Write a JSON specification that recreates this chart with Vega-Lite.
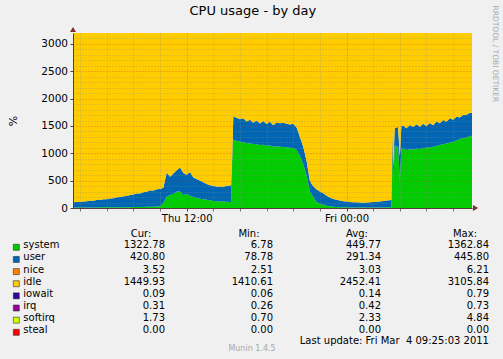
{
  "$schema": "https://vega.github.io/schema/vega-lite/v6.json",
  "width": 399,
  "height": 175,
  "autosize": {"type": "none"},
  "padding": {"left": 73, "top": 33, "right": 31, "bottom": 151},
  "background": "#F0F0F0",
  "title": {"text": "CPU usage - by day", "fontSize": 13, "fontWeight": "normal", "font": "DejaVu Sans", "color": "#000000", "anchor": "middle", "frame": "bounds", "dy": 17},
  "config": {"font": "DejaVu Sans", "view": {"stroke": null}},
  "datasets": {
    "cpu": [
      {"t":"2011-03-03T03:30Z","system":8,"user":97,"idle":3095},
      {"t":"2011-03-03T03:45Z","system":8,"user":104,"idle":3088},
      {"t":"2011-03-03T04:00Z","system":9,"user":102,"idle":3089},
      {"t":"2011-03-03T04:15Z","system":9,"user":112,"idle":3079},
      {"t":"2011-03-03T04:30Z","system":10,"user":112,"idle":3078},
      {"t":"2011-03-03T04:45Z","system":10,"user":123,"idle":3067},
      {"t":"2011-03-03T05:00Z","system":11,"user":121,"idle":3068},
      {"t":"2011-03-03T05:15Z","system":11,"user":135,"idle":3054},
      {"t":"2011-03-03T05:30Z","system":12,"user":135,"idle":3053},
      {"t":"2011-03-03T05:45Z","system":12,"user":150,"idle":3038},
      {"t":"2011-03-03T06:00Z","system":13,"user":148,"idle":3039},
      {"t":"2011-03-03T06:15Z","system":13,"user":163,"idle":3024},
      {"t":"2011-03-03T06:30Z","system":14,"user":166,"idle":3020},
      {"t":"2011-03-03T06:45Z","system":14,"user":184,"idle":3002},
      {"t":"2011-03-03T07:00Z","system":15,"user":186,"idle":2999},
      {"t":"2011-03-03T07:15Z","system":15,"user":202,"idle":2983},
      {"t":"2011-03-03T07:30Z","system":16,"user":203,"idle":2981},
      {"t":"2011-03-03T07:45Z","system":16,"user":222,"idle":2962},
      {"t":"2011-03-03T08:00Z","system":17,"user":229,"idle":2954},
      {"t":"2011-03-03T08:15Z","system":18,"user":247,"idle":2935},
      {"t":"2011-03-03T08:30Z","system":19,"user":248,"idle":2933},
      {"t":"2011-03-03T08:45Z","system":20,"user":269,"idle":2911},
      {"t":"2011-03-03T09:00Z","system":21,"user":275,"idle":2904},
      {"t":"2011-03-03T09:15Z","system":22,"user":300,"idle":2878},
      {"t":"2011-03-03T09:30Z","system":24,"user":296,"idle":2880},
      {"t":"2011-03-03T09:45Z","system":26,"user":316,"idle":2858},
      {"t":"2011-03-03T10:00Z","system":30,"user":318,"idle":2852},
      {"t":"2011-03-03T10:15Z","system":90,"user":280,"idle":2830},
      {"t":"2011-03-03T10:30Z","system":210,"user":440,"idle":2550},
      {"t":"2011-03-03T10:45Z","system":240,"user":330,"idle":2630},
      {"t":"2011-03-03T11:00Z","system":255,"user":375,"idle":2570},
      {"t":"2011-03-03T11:15Z","system":300,"user":390,"idle":2510},
      {"t":"2011-03-03T11:30Z","system":300,"user":440,"idle":2460},
      {"t":"2011-03-03T11:45Z","system":240,"user":400,"idle":2560},
      {"t":"2011-03-03T12:00Z","system":255,"user":355,"idle":2590},
      {"t":"2011-03-03T12:15Z","system":225,"user":435,"idle":2540},
      {"t":"2011-03-03T12:30Z","system":200,"user":360,"idle":2640},
      {"t":"2011-03-03T12:45Z","system":185,"user":345,"idle":2670},
      {"t":"2011-03-03T13:00Z","system":170,"user":335,"idle":2695},
      {"t":"2011-03-03T13:15Z","system":160,"user":310,"idle":2730},
      {"t":"2011-03-03T13:30Z","system":150,"user":290,"idle":2760},
      {"t":"2011-03-03T13:45Z","system":140,"user":275,"idle":2785},
      {"t":"2011-03-03T14:00Z","system":130,"user":275,"idle":2795},
      {"t":"2011-03-03T14:15Z","system":125,"user":265,"idle":2810},
      {"t":"2011-03-03T14:30Z","system":120,"user":275,"idle":2805},
      {"t":"2011-03-03T14:45Z","system":118,"user":267,"idle":2815},
      {"t":"2011-03-03T15:00Z","system":115,"user":290,"idle":2795},
      {"t":"2011-03-03T15:15Z","system":112,"user":298,"idle":2790},
      {"t":"2011-03-03T15:20Z","system":110,"user":305,"idle":2785},
      {"t":"2011-03-03T15:25Z","system":880,"user":70,"idle":2250},
      {"t":"2011-03-03T15:30Z","system":1250,"user":425,"idle":1525},
      {"t":"2011-03-03T15:45Z","system":1230,"user":420,"idle":1550},
      {"t":"2011-03-03T16:00Z","system":1215,"user":410,"idle":1575},
      {"t":"2011-03-03T16:15Z","system":1200,"user":440,"idle":1560},
      {"t":"2011-03-03T16:30Z","system":1190,"user":390,"idle":1620},
      {"t":"2011-03-03T16:45Z","system":1180,"user":435,"idle":1585},
      {"t":"2011-03-03T17:00Z","system":1170,"user":390,"idle":1640},
      {"t":"2011-03-03T17:15Z","system":1165,"user":435,"idle":1600},
      {"t":"2011-03-03T17:30Z","system":1150,"user":395,"idle":1655},
      {"t":"2011-03-03T17:45Z","system":1155,"user":435,"idle":1610},
      {"t":"2011-03-03T18:00Z","system":1140,"user":395,"idle":1665},
      {"t":"2011-03-03T18:15Z","system":1145,"user":430,"idle":1625},
      {"t":"2011-03-03T18:30Z","system":1125,"user":390,"idle":1685},
      {"t":"2011-03-03T18:45Z","system":1130,"user":435,"idle":1635},
      {"t":"2011-03-03T19:00Z","system":1120,"user":430,"idle":1650},
      {"t":"2011-03-03T19:15Z","system":1115,"user":445,"idle":1640},
      {"t":"2011-03-03T19:30Z","system":1110,"user":430,"idle":1660},
      {"t":"2011-03-03T19:45Z","system":1100,"user":425,"idle":1675},
      {"t":"2011-03-03T20:00Z","system":1095,"user":445,"idle":1660},
      {"t":"2011-03-03T20:15Z","system":1060,"user":410,"idle":1730},
      {"t":"2011-03-03T20:30Z","system":950,"user":350,"idle":1900},
      {"t":"2011-03-03T20:45Z","system":800,"user":320,"idle":2080},
      {"t":"2011-03-03T21:00Z","system":600,"user":260,"idle":2340},
      {"t":"2011-03-03T21:15Z","system":300,"user":190,"idle":2710},
      {"t":"2011-03-03T21:30Z","system":200,"user":200,"idle":2800},
      {"t":"2011-03-03T21:45Z","system":110,"user":230,"idle":2860},
      {"t":"2011-03-03T22:00Z","system":80,"user":220,"idle":2900},
      {"t":"2011-03-03T22:15Z","system":60,"user":210,"idle":2930},
      {"t":"2011-03-03T22:30Z","system":40,"user":185,"idle":2975},
      {"t":"2011-03-03T22:45Z","system":30,"user":160,"idle":3010},
      {"t":"2011-03-03T23:00Z","system":25,"user":140,"idle":3035},
      {"t":"2011-03-03T23:15Z","system":20,"user":130,"idle":3050},
      {"t":"2011-03-03T23:30Z","system":15,"user":120,"idle":3065},
      {"t":"2011-03-03T23:45Z","system":13,"user":112,"idle":3075},
      {"t":"2011-03-04T00:00Z","system":12,"user":106,"idle":3082},
      {"t":"2011-03-04T00:15Z","system":11,"user":101,"idle":3088},
      {"t":"2011-03-04T00:30Z","system":10,"user":96,"idle":3094},
      {"t":"2011-03-04T00:45Z","system":10,"user":93,"idle":3097},
      {"t":"2011-03-04T01:00Z","system":10,"user":90,"idle":3100},
      {"t":"2011-03-04T01:15Z","system":10,"user":88,"idle":3102},
      {"t":"2011-03-04T01:30Z","system":10,"user":92,"idle":3098},
      {"t":"2011-03-04T01:45Z","system":10,"user":94,"idle":3096},
      {"t":"2011-03-04T02:00Z","system":10,"user":100,"idle":3090},
      {"t":"2011-03-04T02:15Z","system":10,"user":104,"idle":3086},
      {"t":"2011-03-04T02:30Z","system":10,"user":110,"idle":3080},
      {"t":"2011-03-04T02:45Z","system":11,"user":115,"idle":3074},
      {"t":"2011-03-04T03:00Z","system":12,"user":123,"idle":3065},
      {"t":"2011-03-04T03:15Z","system":13,"user":127,"idle":3060},
      {"t":"2011-03-04T03:22Z","system":14,"user":136,"idle":3050},
      {"t":"2011-03-04T03:25Z","system":1100,"user":300,"idle":1800},
      {"t":"2011-03-04T03:30Z","system":450,"user":300,"idle":2450},
      {"t":"2011-03-04T03:37Z","system":1150,"user":310,"idle":1740},
      {"t":"2011-03-04T03:45Z","system":1120,"user":350,"idle":1730},
      {"t":"2011-03-04T03:52Z","system":1140,"user":340,"idle":1720},
      {"t":"2011-03-04T04:00Z","system":500,"user":440,"idle":2260},
      {"t":"2011-03-04T04:07Z","system":1090,"user":410,"idle":1700},
      {"t":"2011-03-04T04:15Z","system":1080,"user":430,"idle":1690},
      {"t":"2011-03-04T04:30Z","system":1060,"user":400,"idle":1740},
      {"t":"2011-03-04T04:45Z","system":1075,"user":445,"idle":1680},
      {"t":"2011-03-04T05:00Z","system":1070,"user":410,"idle":1720},
      {"t":"2011-03-04T05:15Z","system":1085,"user":445,"idle":1670},
      {"t":"2011-03-04T05:30Z","system":1080,"user":405,"idle":1715},
      {"t":"2011-03-04T05:45Z","system":1095,"user":445,"idle":1660},
      {"t":"2011-03-04T06:00Z","system":1100,"user":400,"idle":1700},
      {"t":"2011-03-04T06:15Z","system":1110,"user":445,"idle":1645},
      {"t":"2011-03-04T06:30Z","system":1120,"user":395,"idle":1685},
      {"t":"2011-03-04T06:45Z","system":1135,"user":445,"idle":1620},
      {"t":"2011-03-04T07:00Z","system":1150,"user":400,"idle":1650},
      {"t":"2011-03-04T07:15Z","system":1165,"user":445,"idle":1590},
      {"t":"2011-03-04T07:30Z","system":1180,"user":395,"idle":1625},
      {"t":"2011-03-04T07:45Z","system":1195,"user":445,"idle":1560},
      {"t":"2011-03-04T08:00Z","system":1210,"user":405,"idle":1585},
      {"t":"2011-03-04T08:15Z","system":1235,"user":435,"idle":1530},
      {"t":"2011-03-04T08:30Z","system":1260,"user":395,"idle":1545},
      {"t":"2011-03-04T08:45Z","system":1275,"user":425,"idle":1500},
      {"t":"2011-03-04T09:00Z","system":1290,"user":415,"idle":1495},
      {"t":"2011-03-04T09:15Z","system":1310,"user":425,"idle":1465},
      {"t":"2011-03-04T09:25Z","system":1323,"user":421,"idle":1456}
    ],
    "stats": [
      {"series":"system","Cur":1322.78,"Min":6.78,"Avg":449.77,"Max":1362.84},
      {"series":"user","Cur":420.80,"Min":78.78,"Avg":291.34,"Max":445.80},
      {"series":"nice","Cur":3.52,"Min":2.51,"Avg":3.03,"Max":6.21},
      {"series":"idle","Cur":1449.93,"Min":1410.61,"Avg":2452.41,"Max":3105.84},
      {"series":"iowait","Cur":0.09,"Min":0.06,"Avg":0.14,"Max":0.79},
      {"series":"irq","Cur":0.31,"Min":0.26,"Avg":0.42,"Max":0.73},
      {"series":"softirq","Cur":1.73,"Min":0.70,"Avg":2.33,"Max":4.84},
      {"series":"steal","Cur":0.00,"Min":0.00,"Avg":0.00,"Max":0.00}
    ]
  },
  "layer": [
    {
      "layer": [
        {
          "data": {"name": "cpu"},
          "transform": [
            {"fold": ["system", "user", "idle"], "as": ["series", "value"]},
            {"window": [{"op": "row_number", "as": "k"}], "groupby": ["t"]}
          ],
          "mark": {"type": "area", "interpolate": "linear"},
          "encoding": {
            "x": {"field": "t", "type": "temporal",
              "scale": {"type": "utc", "nice": false, "domain": [{"year":2011,"month":3,"date":3,"hours":3,"minutes":28,"utc":true},{"year":2011,"month":3,"date":4,"hours":9,"minutes":25,"utc":true}]},
              "axis": {"orient": "bottom", "title": null, "labels": false, "domain": false, "ticks": true, "tickSize": 3, "tickColor": "#777777", "grid": true, "gridColor": "#8C8C8C", "gridOpacity": 0.5, "gridDash": [1, 2], "zindex": 1,
                "values": [
                  {"year":2011,"month":3,"date":3,"hours":4,"utc":true},
                  {"year":2011,"month":3,"date":3,"hours":6,"utc":true},
                  {"year":2011,"month":3,"date":3,"hours":8,"utc":true},
                  {"year":2011,"month":3,"date":3,"hours":10,"utc":true},
                  {"year":2011,"month":3,"date":3,"hours":14,"utc":true},
                  {"year":2011,"month":3,"date":3,"hours":16,"utc":true},
                  {"year":2011,"month":3,"date":3,"hours":18,"utc":true},
                  {"year":2011,"month":3,"date":3,"hours":20,"utc":true},
                  {"year":2011,"month":3,"date":3,"hours":22,"utc":true},
                  {"year":2011,"month":3,"date":4,"hours":2,"utc":true},
                  {"year":2011,"month":3,"date":4,"hours":4,"utc":true},
                  {"year":2011,"month":3,"date":4,"hours":6,"utc":true},
                  {"year":2011,"month":3,"date":4,"hours":8,"utc":true}
                ]}},
            "y": {"field": "value", "type": "quantitative", "stack": "zero",
              "scale": {"domain": [0, 3200], "nice": false},
              "axis": {"orient": "left", "title": null, "labels": false, "domain": false, "ticks": false, "grid": true, "gridColor": "#8C8C8C", "gridOpacity": 0.5, "gridDash": [1, 2], "zindex": 1,
                "values": [100,200,300,400,600,700,800,900,1100,1200,1300,1400,1600,1700,1800,1900,2100,2200,2300,2400,2600,2700,2800,2900,3100]}},
            "color": {"field": "series", "type": "nominal",
              "scale": {"domain": ["system","user","nice","idle","iowait","irq","softirq","steal"], "range": ["#00CC00","#0066B3","#FF8000","#FFCC00","#330099","#990099","#CCFF00","#FF0000"]},
              "legend": null},
            "order": {"field": "k", "type": "quantitative"}
          }
        },
        {
          "data": {"values": [{}]},
          "mark": {"type": "point", "shape": "triangle-up", "filled": true, "size": 36, "color": "#7F2F2F", "opacity": 1},
          "encoding": {
            "x": {"datum": {"year":2011,"month":3,"date":3,"hours":3,"minutes":28,"utc":true}, "type": "temporal",
              "scale": {"type": "utc", "nice": false, "domain": [{"year":2011,"month":3,"date":3,"hours":3,"minutes":28,"utc":true},{"year":2011,"month":3,"date":4,"hours":9,"minutes":25,"utc":true}]},
              "axis": {"orient": "bottom", "title": null, "format": "%a %H:%M", "labelFontSize": 10, "labelColor": "#000000", "labelPadding": 2, "labelFlush": false, "tickSize": 3, "tickColor": "#444444", "domain": true, "domainColor": "#5A3A3A", "grid": true, "gridColor": "#C03C3C", "gridOpacity": 0.5, "gridDash": [1, 2], "zindex": 1,
                "values": [{"year":2011,"month":3,"date":3,"hours":12,"utc":true},{"year":2011,"month":3,"date":4,"hours":0,"utc":true}]}},
            "y": {"datum": 3264, "type": "quantitative",
              "scale": {"domain": [0, 3200], "nice": false},
              "axis": {"orient": "left", "title": "%", "titleFontSize": 11, "titleFontWeight": "normal", "titleColor": "#000000", "titlePadding": 22, "format": "d",
                "labelFontSize": 10.5, "labelColor": "#000000", "labelPadding": 2.5, "tickSize": 3, "tickColor": "#444444", "domain": true, "domainColor": "#5A3A3A",
                "grid": true, "gridColor": "#C03C3C", "gridOpacity": 0.5, "gridDash": [1, 2], "zindex": 1,
                "values": [0, 500, 1000, 1500, 2000, 2500, 3000]}}
          }
        },
        {
          "data": {"values": [{}]},
          "mark": {"type": "point", "shape": "triangle-right", "filled": true, "size": 36, "color": "#7F2F2F", "opacity": 1},
          "encoding": {
            "x": {"datum": {"year":2011,"month":3,"date":4,"hours":9,"minutes":41,"utc":true}, "type": "temporal",
              "scale": {"type": "utc", "nice": false, "domain": [{"year":2011,"month":3,"date":3,"hours":3,"minutes":28,"utc":true},{"year":2011,"month":3,"date":4,"hours":9,"minutes":25,"utc":true}]},
              "axis": null},
            "y": {"datum": 0, "type": "quantitative",
              "scale": {"domain": [0, 3200], "nice": false},
              "axis": {"orient": "right", "labels": false, "ticks": false, "domain": false, "grid": false,
                "title": "RRDTOOL / TOBI OETIKER", "titleFontSize": 7.5, "titleFontWeight": "normal", "titleColor": "#A8A8A8",
                "titleAngle": 90, "titleAlign": "left", "titleBaseline": "middle", "titleX": 22, "titleY": -28}}
          }
        }
      ],
      "resolve": {"axis": {"x": "independent", "y": "independent"}}
    },
    {
      "layer": [
        {
          "data": {"name": "stats"},
          "mark": {"type": "point", "shape": "square", "filled": true, "size": 36, "stroke": "#333333", "strokeWidth": 0.6, "opacity": 1, "xOffset": -148.7, "yOffset": -1},
          "encoding": {
            "x": {"datum": "Cur", "type": "nominal", "scale": {"type": "point", "domain": ["Cur","Min","Avg","Max"], "range": [92, 416], "padding": 0}, "axis": null},
            "y": {"field": "series", "type": "nominal", "scale": {"type": "point", "domain": ["system","user","nice","idle","iowait","irq","softirq","steal"], "range": [215.3, 300.3], "padding": 0}, "axis": null},
            "color": {"field": "series", "type": "nominal", "legend": null}
          }
        },
        {
          "data": {"name": "stats"},
          "mark": {"type": "text", "align": "left", "baseline": "alphabetic", "fontSize": 10, "color": "#000000", "xOffset": -141.7},
          "encoding": {
            "x": {"datum": "Cur", "type": "nominal", "scale": {"type": "point", "domain": ["Cur","Min","Avg","Max"], "range": [92, 416], "padding": 0}, "axis": null},
            "y": {"field": "series", "type": "nominal", "scale": {"type": "point", "domain": ["system","user","nice","idle","iowait","irq","softirq","steal"], "range": [215.3, 300.3], "padding": 0}, "axis": null},
            "text": {"field": "series", "type": "nominal"}
          }
        },
        {
          "data": {"name": "stats"},
          "transform": [{"fold": ["Cur", "Min", "Avg", "Max"], "as": ["stat", "val"]}],
          "mark": {"type": "text", "align": "right", "baseline": "alphabetic", "fontSize": 10, "color": "#000000"},
          "encoding": {
            "x": {"field": "stat", "type": "nominal", "scale": {"type": "point", "domain": ["Cur","Min","Avg","Max"], "range": [92, 416], "padding": 0}, "axis": null},
            "y": {"field": "series", "type": "nominal", "scale": {"type": "point", "domain": ["system","user","nice","idle","iowait","irq","softirq","steal"], "range": [215.3, 300.3], "padding": 0}, "axis": null},
            "text": {"field": "val", "type": "quantitative", "format": ".2f"}
          }
        },
        {
          "data": {"values": [{"stat": "Cur", "label": "Cur:"}, {"stat": "Min", "label": "Min:"}, {"stat": "Avg", "label": "Avg:"}, {"stat": "Max", "label": "Max:"}]},
          "mark": {"type": "text", "align": "center", "baseline": "alphabetic", "fontSize": 10, "color": "#000000", "xOffset": -24, "yOffset": -11},
          "encoding": {
            "x": {"field": "stat", "type": "nominal", "scale": {"type": "point", "domain": ["Cur","Min","Avg","Max"], "range": [92, 416], "padding": 0}, "axis": null},
            "y": {"datum": "system", "type": "nominal", "scale": {"type": "point", "domain": ["system","user","nice","idle","iowait","irq","softirq","steal"], "range": [215.3, 300.3], "padding": 0}, "axis": null},
            "text": {"field": "label", "type": "nominal"}
          }
        },
        {
          "data": {"values": [{"label": "Last update: Fri Mar \u00a04 09:25:03 2011"}]},
          "mark": {"type": "text", "align": "right", "baseline": "alphabetic", "fontSize": 10, "color": "#000000", "yOffset": 10.7},
          "encoding": {
            "x": {"datum": "Max", "type": "nominal", "scale": {"type": "point", "domain": ["Cur","Min","Avg","Max"], "range": [92, 416], "padding": 0}, "axis": null},
            "y": {"datum": "steal", "type": "nominal", "scale": {"type": "point", "domain": ["system","user","nice","idle","iowait","irq","softirq","steal"], "range": [215.3, 300.3], "padding": 0}, "axis": null},
            "text": {"field": "label", "type": "nominal"}
          }
        },
        {
          "data": {"values": [{"label": "Munin 1.4.5"}]},
          "mark": {"type": "text", "align": "center", "baseline": "alphabetic", "fontSize": 8, "color": "#A8A8A8", "xOffset": -21, "yOffset": 17.7},
          "encoding": {
            "x": {"datum": "Min", "type": "nominal", "scale": {"type": "point", "domain": ["Cur","Min","Avg","Max"], "range": [92, 416], "padding": 0}, "axis": null},
            "y": {"datum": "steal", "type": "nominal", "scale": {"type": "point", "domain": ["system","user","nice","idle","iowait","irq","softirq","steal"], "range": [215.3, 300.3], "padding": 0}, "axis": null},
            "text": {"field": "label", "type": "nominal"}
          }
        }
      ]
    }
  ],
  "resolve": {"scale": {"x": "independent", "y": "independent"}, "axis": {"x": "independent", "y": "independent"}}
}
